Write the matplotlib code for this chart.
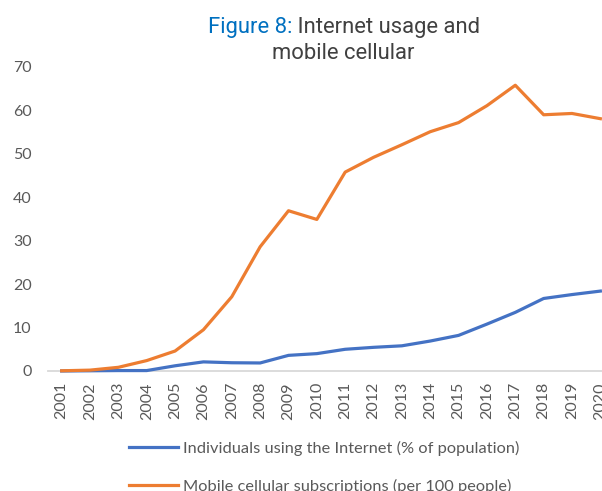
import matplotlib
matplotlib.use("Agg")
import matplotlib.pyplot as plt

years = [str(y) for y in range(2001, 2021)]
internet_users = [0.0, 0.05, 0.1, 0.1, 1.2, 2.1, 1.9, 1.85, 3.6, 4.0,
                  5.0, 5.45, 5.8, 6.9, 8.2, 10.8, 13.5, 16.7, 17.6, 18.4]
mobile_subs = [0.05, 0.2, 0.85, 2.4, 4.6, 9.5, 17.1, 28.6, 36.9, 34.9,
               45.8, 49.2, 52.1, 55.1, 57.2, 61.1, 65.8, 59.0, 59.3, 58.1]
series_labels = ["Individuals using the Internet (% of population)",
                 "Mobile cellular subscriptions (per 100 people)"]
y_ticks = [0, 10, 20, 30, 40, 50, 60, 70]

W, H = 602, 491
DPI = 100
BODY_FONT = "Lato"
TEXT_GRAY = "#595959"
BLUE = "#4472C4"
ORANGE = "#ED7D31"

fig = plt.figure(figsize=(W / DPI, H / DPI), dpi=DPI)
fig.patch.set_facecolor("white")

left_px, right_px, top_px, bottom_px = 47.5, 602, 67, 371
ax = fig.add_axes([left_px / W, 1 - bottom_px / H,
                   (right_px - left_px) / W, (bottom_px - top_px) / H])

x = list(range(len(years)))
ax.plot(x, internet_users, color=BLUE, lw=2.3, label=series_labels[0],
        clip_on=False, zorder=3, solid_joinstyle="round")
ax.plot(x, mobile_subs, color=ORANGE, lw=2.3, label=series_labels[1],
        clip_on=False, zorder=3, solid_joinstyle="round")

ax.set_xlim(-0.5, (right_px - 61.7) / 28.35)
ax.set_ylim(0, 70)
ax.set_yticks(y_ticks)
ax.set_xticks(x)
ax.set_xticklabels(years, rotation=90, va="top", ha="center")

for side in ("top", "right", "left"):
    ax.spines[side].set_visible(False)
ax.spines["bottom"].set_color("#D9D9D9")
ax.spines["bottom"].set_linewidth(1.3)
ax.spines["bottom"].set_zorder(1)

ax.tick_params(axis="both", length=0, labelcolor=TEXT_GRAY, labelsize=11.5)
ax.tick_params(axis="y", pad=11.5)
ax.tick_params(axis="x", pad=8)
for lab in ax.get_xticklabels() + ax.get_yticklabels():
    lab.set_family(BODY_FONT)

# Two-colour title: "Figure 8:" in blue, remainder in dark gray
title_size = 15.8
line1_base = 1 - 33.3 / H
line2_base = 1 - 59 / H
center_x = 344 / W
t_blue = fig.text(0, line1_base, "Figure 8:", color="#0070C0",
                  family="Roboto", fontsize=title_size, va="baseline", ha="left")
t_gray = fig.text(0, line1_base, " Internet usage and", color="#404040",
                  family="Roboto", fontsize=title_size, va="baseline", ha="left")
renderer = fig.canvas.get_renderer()
w_blue = t_blue.get_window_extent(renderer).width / W
w_gray = t_gray.get_window_extent(renderer).width / W
start = center_x - (w_blue + w_gray) / 2
t_blue.set_x(start)
t_gray.set_x(start + w_blue)
fig.text(343.5 / W, line2_base, "mobile cellular", color="#404040",
         family="Roboto", fontsize=title_size, va="baseline", ha="center")

leg = fig.legend(loc="upper left", bbox_to_anchor=(114 / W, 1 - 426 / H),
                 frameon=False, ncol=1, handlelength=3.0, handletextpad=0.3,
                 labelspacing=1.4, prop={"family": BODY_FONT, "size": 11.8})
for txt in leg.get_texts():
    txt.set_color(TEXT_GRAY)

fig.savefig("out.png", dpi=DPI, facecolor="white")
